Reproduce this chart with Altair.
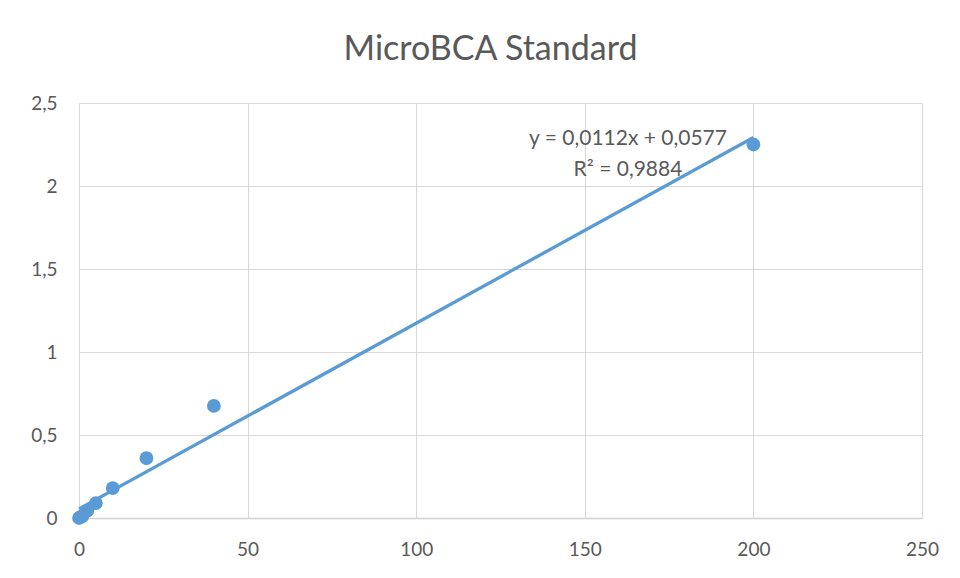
import altair as alt
import pandas as pd

concentration = [0, 0.5, 1, 2.5, 5, 10, 20, 40, 200]
absorbance = [0, 0.005, 0.012, 0.045, 0.09, 0.18, 0.36, 0.675, 2.25]
eq_lines = ["y = 0,0112x + 0,0577", "R² = 0,9884"]
x_ticks = [0, 50, 100, 150, 200, 250]
y_ticks = [0, 0.5, 1, 1.5, 2, 2.5]

df = pd.DataFrame({"x": concentration, "y": absorbance})

FONT = "Lato"
GREY = "#595959"
BLUE = "#5B9BD5"

xs = alt.Scale(domain=[0, 250], nice=False, zero=True)
ys = alt.Scale(domain=[0, 2.5], nice=False)

xax = alt.Axis(values=x_ticks, title=None, grid=True, gridColor="#d9d9d9", ticks=False,
               domainColor="#d0d0d0", domainWidth=1.5, labelFontSize=19, labelColor=GREY,
               labelFont=FONT, labelPadding=22, labelFlush=False)
yax = alt.Axis(values=y_ticks, title=None, grid=True, gridColor="#d9d9d9", ticks=False,
               domain=False, labelFontSize=19, labelColor=GREY, labelFont=FONT,
               labelPadding=22, labelExpr="replace(toString(datum.value), '.', ',')")

base = alt.Chart(df)

trend = base.transform_regression("x", "y", method="linear", extent=[0, 200]).mark_line(
    color=BLUE, strokeWidth=3.3
).encode(x=alt.X("x:Q", scale=xs, axis=xax), y=alt.Y("y:Q", scale=ys, axis=yax))

pts = base.mark_circle(size=190, color=BLUE, opacity=1).encode(
    x=alt.X("x:Q", scale=xs), y=alt.Y("y:Q", scale=ys)
)

eq = alt.Chart(pd.DataFrame({"t": [eq_lines]})).mark_text(
    font=FONT, fontSize=21, color=GREY, align="center", baseline="middle", lineHeight=31
).encode(text="t:N", x=alt.value(549), y=alt.value(36))

chart = (trend + pts + eq).properties(
    width=843, height=415,
    title=alt.TitleParams("MicroBCA Standard", font=FONT, fontSize=34, color=GREY,
                          fontWeight="normal", anchor="middle", offset=27, dx=-10),
    padding={"left": 71, "top": 95, "right": 30, "bottom": 52},
    autosize=alt.AutoSizeParams(type="none"),
).configure_view(stroke=None)

chart.save("out.html", embed_options={"renderer": "svg", "actions": False})
